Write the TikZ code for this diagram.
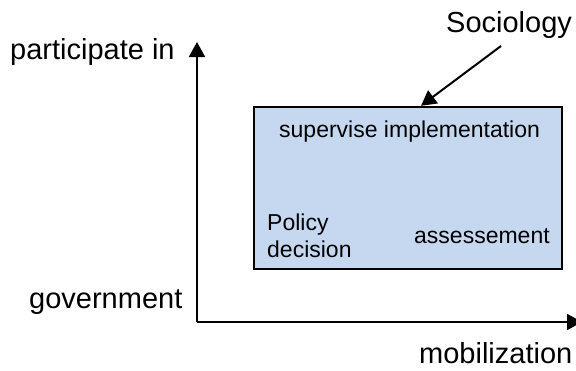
\documentclass[tikz,border=0pt]{standalone}
\usepackage{fontspec}
\setmainfont{Liberation Sans}
\usetikzlibrary{arrows.meta}
\definecolor{boxblue}{RGB}{198,216,240}
\begin{document}
\begin{tikzpicture}[x=1pt,y=-1pt,
  axis/.style={line width=2pt,-{Triangle[length=15pt,width=16pt]}},
  bigtext/.style={inner sep=0pt,anchor=base west,font=\fontsize{29}{34}\selectfont},
  smalltext/.style={inner sep=0pt,anchor=base west,font=\fontsize{23}{27}\selectfont},
  stage/.style={draw=black,line width=2.4pt,fill=boxblue,inner sep=0pt}]
\useasboundingbox (0,0) rectangle (576,370);

% coloured block of activities
\node[stage,minimum width=308pt,minimum height=162pt] (box) at (408,188) {};
\node[smalltext] (sup) at (279,137) {supervise implementation};
% two-line label: the base anchor sits on the last line
\node[smalltext,align=left] (pol) at (267,257) {Policy\\decision};
\node[smalltext] (ass) at (414,243) {assessement};

% axes
\coordinate (origin) at (197,322);
\coordinate (ytip) at (197,42);
\coordinate (xtip) at (582,322);
\draw[axis] (origin) -- (ytip);
\draw[axis] (origin) -- (xtip);

% axis labels
\node[bigtext] (yl) at (10,59) {participate in};
\node[bigtext] (gov) at (29,308) {government};
\node[bigtext] (xl) at (419,363) {mobilization};

% discipline label pointing at the block
\node[bigtext] (soc) at (446,32) {Sociology};
\coordinate (socfoot) at (501,46);
\coordinate (boxtop) at (box.north -| 421,0);
\draw[axis] (socfoot) -- (boxtop);
\end{tikzpicture}
\end{document}
